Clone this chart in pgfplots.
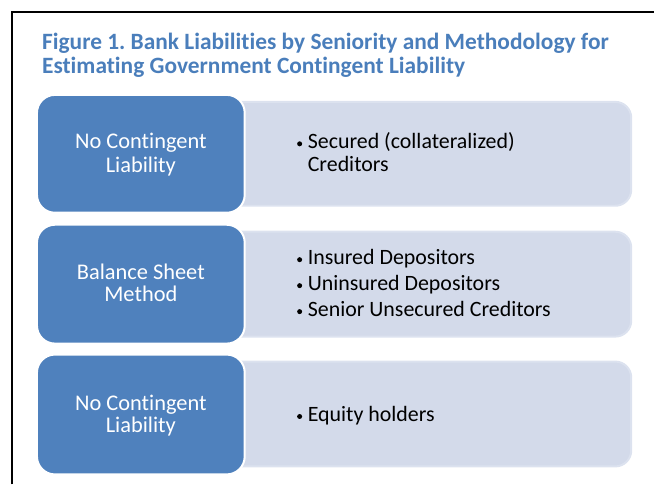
\documentclass[border=0pt]{standalone}
\usepackage{pgfplots}
\pgfplotsset{compat=1.18}
\usepackage{fontspec}
\setmainfont[Ligatures=NoCommon]{Carlito}
\definecolor{titleblue}{HTML}{4A7EBB}
\definecolor{boxblue}{HTML}{4F81BD}
\definecolor{lightbox}{HTML}{D3DAEA}
\definecolor{lightedge}{HTML}{DCE2EF}
\frenchspacing
\begin{document}
\begin{tikzpicture}
\begin{axis}[
  width=655bp, height=485bp, scale only axis,
  xmin=0, xmax=655, ymin=0, ymax=485, y dir=reverse,
  hide axis, clip=false,
]
\path (axis cs:0,0) rectangle (axis cs:655,485);
% frame (top and left edges)
\draw[black, line width=1.6bp] (axis cs:12,485) -- (axis cs:12,12) -- (axis cs:655,12);
% title
\node[anchor=base west, font=\fontsize{23.5}{24}\selectfont\bfseries, text=titleblue, inner sep=0pt]
  at (axis cs:42,50) {Figure 1. Bank Liabilities by Seniority and Methodology for};
\node[anchor=base west, font=\fontsize{23.5}{24}\selectfont\bfseries, text=titleblue, inner sep=0pt]
  at (axis cs:42,74) {Estimating Government Contingent Liability};
% light boxes
\draw[fill=lightbox, draw=lightedge, line width=2bp, rounded corners=16bp]
    (axis cs:225,102) rectangle (axis cs:632,206);
\draw[fill=lightbox, draw=lightedge, line width=2bp, rounded corners=16bp]
    (axis cs:225,232) rectangle (axis cs:632,337);
\draw[fill=lightbox, draw=lightedge, line width=2bp, rounded corners=16bp]
    (axis cs:225,362) rectangle (axis cs:632,467);
% blue boxes
\draw[fill=boxblue, draw=white, line width=2bp, rounded corners=18bp]
    (axis cs:37,95) rectangle (axis cs:245,213);
\draw[fill=boxblue, draw=white, line width=2bp, rounded corners=18bp]
    (axis cs:37,225) rectangle (axis cs:245,344);
\draw[fill=boxblue, draw=white, line width=2bp, rounded corners=18bp]
    (axis cs:37,355) rectangle (axis cs:245,475);
% blue box text
\node[anchor=base, text=white, font=\fontsize{22.5}{23}\selectfont, inner sep=0pt] at (axis cs:141,149) {No Contingent};
\node[anchor=base, text=white, font=\fontsize{22.5}{23}\selectfont, inner sep=0pt] at (axis cs:141,173) {Liability};
\node[anchor=base, text=white, font=\fontsize{22.5}{23}\selectfont, inner sep=0pt] at (axis cs:141,280) {Balance Sheet};
\node[anchor=base, text=white, font=\fontsize{22.5}{23}\selectfont, inner sep=0pt] at (axis cs:141,302) {Method};
\node[anchor=base, text=white, font=\fontsize{22.5}{23}\selectfont, inner sep=0pt] at (axis cs:141,411) {No Contingent};
\node[anchor=base, text=white, font=\fontsize{22.5}{23}\selectfont, inner sep=0pt] at (axis cs:141,433) {Liability};
% bullets and bullet text
\node[circle, fill=black, inner sep=0pt, minimum size=5bp] at (axis cs:300,144) {};
\node[anchor=base west, font=\fontsize{22}{23}\selectfont, inner sep=0pt] at (axis cs:308,149) {Secured (collateralized)};
\node[anchor=base west, font=\fontsize{22}{23}\selectfont, inner sep=0pt] at (axis cs:308,172) {Creditors};
\node[circle, fill=black, inner sep=0pt, minimum size=5bp] at (axis cs:300,260) {};
\node[anchor=base west, font=\fontsize{22}{23}\selectfont, inner sep=0pt] at (axis cs:308,265) {Insured Depositors};
\node[circle, fill=black, inner sep=0pt, minimum size=5bp] at (axis cs:300,286) {};
\node[anchor=base west, font=\fontsize{22}{23}\selectfont, inner sep=0pt] at (axis cs:308,291) {Uninsured Depositors};
\node[circle, fill=black, inner sep=0pt, minimum size=5bp] at (axis cs:300,312) {};
\node[anchor=base west, font=\fontsize{22}{23}\selectfont, inner sep=0pt] at (axis cs:308,317) {Senior Unsecured Creditors};
\node[circle, fill=black, inner sep=0pt, minimum size=5bp] at (axis cs:300,417) {};
\node[anchor=base west, font=\fontsize{22}{23}\selectfont, inner sep=0pt] at (axis cs:308,422) {Equity holders};
\end{axis}
\end{tikzpicture}
\end{document}
